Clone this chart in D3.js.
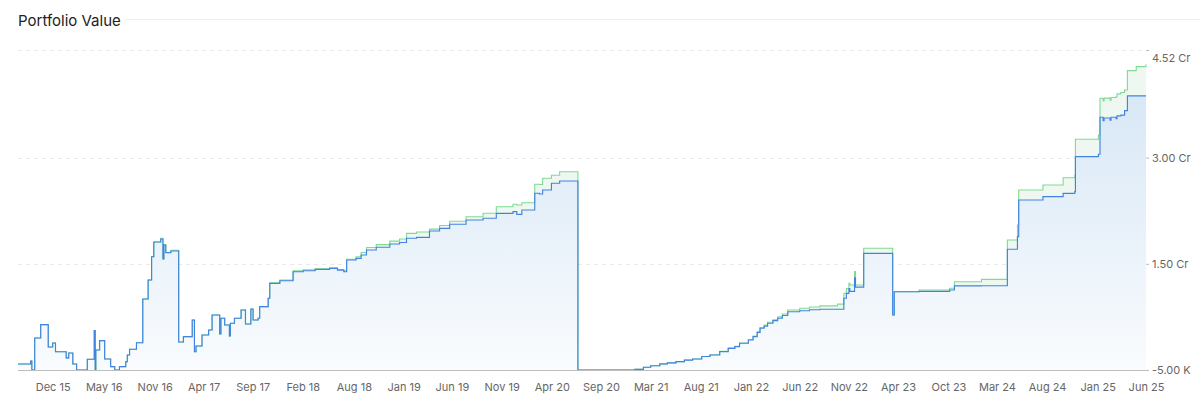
<!DOCTYPE html>
<html>
<head>
<meta charset="utf-8">
<title>Portfolio Value</title>
<script src="https://cdn.jsdelivr.net/npm/d3@7"></script>
<style>
  html, body { margin: 0; padding: 0; background: #fff; }
  .vis { width: 1200px; height: 398px; }
  text { font-family: Inter, "Noto Sans", sans-serif; }
</style>
</head>
<body>
<div class="vis"></div>
<script>
(function() {
  'use strict';

  // dates of each step, and the two series (values in crore)
  var dates = [
    "2015-09-01", "2015-10-11", "2015-10-15", "2015-10-24", "2015-11-12", "2015-12-06",
    "2015-12-20", "2015-12-29", "2016-02-01", "2016-02-09", "2016-02-22", "2016-03-05",
    "2016-04-08", "2016-04-30", "2016-05-03", "2016-05-05", "2016-05-17", "2016-06-02",
    "2016-06-21", "2016-07-04", "2016-07-19", "2016-08-08", "2016-08-13", "2016-08-20",
    "2016-09-11", "2016-10-01", "2016-10-18", "2016-10-29", "2016-11-05", "2016-11-27",
    "2016-12-04", "2016-12-07", "2016-12-13", "2016-12-29", "2017-01-23", "2017-02-07",
    "2017-03-07", "2017-03-14", "2017-03-19", "2017-04-07", "2017-04-28", "2017-05-09",
    "2017-06-02", "2017-06-06", "2017-06-18", "2017-07-03", "2017-07-06", "2017-07-19",
    "2017-08-09", "2017-08-23", "2017-09-09", "2017-09-16", "2017-10-02", "2017-10-07",
    "2017-11-03", "2017-11-08", "2017-12-10", "2018-01-21", "2018-02-22", "2018-04-01",
    "2018-05-17", "2018-06-11", "2018-07-01", "2018-07-10", "2018-08-09", "2018-08-25",
    "2018-09-11", "2018-10-12", "2018-11-24", "2018-12-25", "2019-01-16", "2019-02-17",
    "2019-03-30", "2019-05-01", "2019-06-02", "2019-07-24", "2019-09-16", "2019-10-28",
    "2019-12-20", "2020-01-01", "2020-01-17", "2020-02-27", "2020-03-13", "2020-03-23",
    "2020-04-20", "2020-05-16", "2020-07-13", "2021-01-10", "2021-02-06", "2021-03-01",
    "2021-03-30", "2021-04-23", "2021-05-20", "2021-06-16", "2021-07-12", "2021-08-10",
    "2021-09-05", "2021-10-06", "2021-11-02", "2021-11-23", "2021-12-08", "2022-01-05",
    "2022-01-20", "2022-02-02", "2022-02-11", "2022-02-24", "2022-03-07", "2022-03-24",
    "2022-04-08", "2022-04-23", "2022-05-10", "2022-06-17", "2022-07-18", "2022-08-20",
    "2022-10-15", "2022-11-04", "2022-11-12", "2022-11-20", "2022-11-23", "2022-12-08",
    "2022-12-11", "2023-01-06", "2023-04-08", "2023-04-13", "2023-07-01", "2023-10-06",
    "2023-10-21", "2024-01-15", "2024-04-06", "2024-05-08", "2024-05-12", "2024-07-28",
    "2024-09-30", "2024-11-06", "2024-11-08", "2025-01-20", "2025-01-25", "2025-02-04",
    "2025-02-07", "2025-02-26", "2025-03-01", "2025-03-17", "2025-03-20", "2025-04-01",
    "2025-04-13", "2025-04-22", "2025-05-20", "2025-06-20"
  ];

  var invested = [
    0.084, 0.127, 0, 0.452, 0.64, 0.325,
    0.381, 0.258, 0.17, 0.24, 0.084, 0,
    0.151, 0.555, 0, 0.282, 0.414, 0.155,
    0.047, 0, 0.047, 0.117, 0.212, 0.292,
    0.385, 1.003, 1.271, 1.60, 1.808, 1.85,
    1.567, 1.765, 1.657, 1.68, 0.395, 0.47,
    0.706, 0.258, 0.339, 0.494, 0.565, 0.777,
    0.508, 0.73, 0.635, 0.48, 0.66, 0.73,
    0.847, 0.649, 0.861, 0.706, 0.73, 0.894,
    1.013, 1.224, 1.261, 1.388, 1.402, 1.42,
    1.436, 1.41, 1.388, 1.553, 1.577, 1.624,
    1.695, 1.733, 1.78, 1.80, 1.86, 1.874,
    1.963, 2.00, 2.058, 2.118, 2.143, 2.213,
    2.236, 2.199, 2.26, 2.496, 2.486, 2.542,
    2.637, 2.67, 0, 0.008, 0.038, 0.06,
    0.085, 0.10, 0.117, 0.14, 0.155, 0.19,
    0.212, 0.259, 0.306, 0.33, 0.377, 0.424,
    0.47, 0.53, 0.589, 0.62, 0.66, 0.696,
    0.73, 0.77, 0.822, 0.836, 0.85, 0.857,
    0.857, 1.013, 1.081, 1.15, 1.11, 1.30,
    1.17, 1.646, 0.777, 1.105, 1.11, 1.13,
    1.187, 1.19, 1.705, 1.883, 2.401, 2.448,
    2.495, 2.519, 3.013, 3.047, 3.57, 3.52,
    3.56, 3.53, 3.57, 3.55, 3.59, 3.60,
    3.664, 3.871, 3.871, 3.871
  ];

  var current = [
    0.084, 0.127, 0, 0.452, 0.64, 0.325,
    0.381, 0.258, 0.17, 0.24, 0.084, 0,
    0.151, 0.555, 0, 0.282, 0.414, 0.155,
    0.047, 0, 0.047, 0.117, 0.212, 0.292,
    0.385, 1.003, 1.271, 1.60, 1.808, 1.86,
    1.567, 1.77, 1.66, 1.69, 0.395, 0.47,
    0.706, 0.258, 0.339, 0.494, 0.565, 0.777,
    0.508, 0.73, 0.635, 0.48, 0.66, 0.73,
    0.847, 0.649, 0.861, 0.706, 0.73, 0.894,
    1.013, 1.23, 1.27, 1.40, 1.415, 1.43,
    1.445, 1.42, 1.40, 1.565, 1.60, 1.66,
    1.73, 1.77, 1.82, 1.85, 1.93, 1.95,
    1.99, 2.04, 2.10, 2.165, 2.213, 2.306,
    2.34, 2.33, 2.363, 2.623, 2.62, 2.708,
    2.75, 2.80, 0, 0.008, 0.038, 0.06,
    0.085, 0.10, 0.117, 0.14, 0.155, 0.19,
    0.215, 0.262, 0.31, 0.335, 0.38, 0.43,
    0.48, 0.54, 0.60, 0.635, 0.675, 0.71,
    0.75, 0.79, 0.848, 0.872, 0.89, 0.905,
    0.93, 1.083, 1.15, 1.225, 1.20, 1.389,
    1.20, 1.719, 0.777, 1.105, 1.13, 1.154,
    1.247, 1.28, 1.836, 2.048, 2.543, 2.613,
    2.716, 2.755, 3.259, 3.32, 3.838, 3.80,
    3.84, 3.81, 3.85, 3.86, 3.90, 3.92,
    3.956, 4.228, 4.285, 4.319
  ];

  var xTickDates = [
    "2015-12-20", "2016-05-30", "2016-11-08", "2017-04-12", "2017-09-15", "2018-02-21",
    "2018-08-02", "2019-01-07", "2019-06-09", "2019-11-14", "2020-04-21", "2020-09-24",
    "2021-03-01", "2021-08-07", "2022-01-13", "2022-06-17", "2022-11-20", "2023-04-25",
    "2023-10-02", "2024-03-04", "2024-08-10", "2025-01-18", "2025-06-20"
  ];

  var yTicks = [-0.0005, 1.5, 3.0, 4.52];

  var parse = d3.timeParse("%Y-%m-%d");

  var el = d3.select('.vis'),
    elWidth = 1200,
    elHeight = 398,
    margin = {top: 50, right: 54, bottom: 28, left: 18},
    width = elWidth - margin.left - margin.right,
    height = elHeight - margin.top - margin.bottom;

  var data = dates.map(function(d, i) {
    return {date: parse(d), invested: invested[i], current: current[i]};
  });

  var svg = el.append("svg")
      .attr("width", elWidth)
      .attr("height", elHeight);

  // title + rule
  svg.append("text")
      .attr("x", 18)
      .attr("y", 26)
      .attr("font-size", 15)
      .attr("fill", "#222")
      .text("Portfolio Value");

  svg.append("line")
      .attr("x1", 125).attr("x2", elWidth)
      .attr("y1", 19.5).attr("y2", 19.5)
      .attr("stroke", "#eeeeee");

  var defs = svg.append("defs");
  var grad = defs.append("linearGradient")
      .attr("id", "blueFill")
      .attr("gradientUnits", "userSpaceOnUse")
      .attr("x1", 0).attr("y1", margin.top)
      .attr("x2", 0).attr("y2", margin.top + height);
  grad.append("stop").attr("offset", "0%").attr("stop-color", "#d9e8f6");
  grad.append("stop").attr("offset", "100%").attr("stop-color", "#ffffff");

  var g = svg.append("g")
      .attr("transform", "translate(" + margin.left + "," + margin.top + ")");

  var x = d3.scaleTime()
      .domain([parse("2015-09-01"), parse("2025-06-20")])
      .range([0, width]);

  var y = d3.scaleLinear()
      .domain([yTicks[0], yTicks[yTicks.length - 1]])
      .range([height, 0]);

  // dashed grid
  g.selectAll('.grid')
    .data(yTicks.slice(1))
    .enter()
    .append('line')
      .attr('class', 'grid')
      .attr('x1', 0)
      .attr('x2', width)
      .attr('y1', function(d) { return Math.round(y(d)) + 0.5; })
      .attr('y2', function(d) { return Math.round(y(d)) + 0.5; })
      .attr('stroke', '#e9e9e9')
      .attr('stroke-dasharray', '4,4');

  var curve = d3.curveStepAfter;

  var blueArea = d3.area()
      .curve(curve)
      .x(function(d) { return x(d.date); })
      .y0(height)
      .y1(function(d) { return y(d.invested); });

  var greenArea = d3.area()
      .curve(curve)
      .x(function(d) { return x(d.date); })
      .y0(function(d) { return y(d.invested); })
      .y1(function(d) { return y(d.current); });

  var blueLine = d3.line()
      .curve(curve)
      .x(function(d) { return x(d.date); })
      .y(function(d) { return y(d.invested); });

  var greenLine = d3.line()
      .curve(curve)
      .x(function(d) { return x(d.date); })
      .y(function(d) { return y(d.current); });

  g.append('path')
      .datum(data)
      .attr('d', blueArea)
      .attr('fill', 'url(#blueFill)');

  g.append('path')
      .datum(data)
      .attr('d', greenArea)
      .attr('fill', '#eef8f1');

  g.append('path')
      .datum(data)
      .attr('d', greenLine)
      .attr('fill', 'none')
      .attr('stroke', '#80da94')
      .attr('stroke-width', 1.1);

  g.append('path')
      .datum(data)
      .attr('d', blueLine)
      .attr('fill', 'none')
      .attr('stroke', '#4283e2')
      .attr('stroke-width', 1.15);

  // baseline
  g.append('line')
      .attr('x1', 0).attr('x2', width)
      .attr('y1', height + 0.5).attr('y2', height + 0.5)
      .attr('stroke', '#bdbdbd');

  // x axis
  var xAxis = d3.axisBottom(x)
      .tickValues(xTickDates.map(parse))
      .tickFormat(d3.timeFormat("%b %y"))
      .tickSize(0)
      .tickPadding(13);

  var xg = g.append('g')
      .attr('transform', 'translate(0,' + height + ')')
      .call(xAxis);
  xg.select('.domain').remove();
  xg.selectAll('text')
      .attr('font-family', 'Inter, sans-serif')
      .attr('font-size', 11)
      .attr('fill', '#666');

  // y axis on the right
  function fmt(v) {
    if (Math.abs(v) < 0.01) {
      return (v * 1e7 / 1e3).toFixed(2) + " K";
    }
    return v.toFixed(2) + " Cr";
  }

  var yAxis = d3.axisRight(y)
      .tickValues(yTicks)
      .tickFormat(fmt)
      .tickSize(3)
      .tickPadding(3);

  var yg = g.append('g')
      .attr('transform', 'translate(' + width + ',0)')
      .call(yAxis);
  yg.select('.domain').remove();
  yg.selectAll('line').attr('stroke', '#bbb');
  yg.selectAll('text')
      .attr('font-family', 'Inter, sans-serif')
      .attr('font-size', 11)
      .attr('fill', '#666')
      .attr('dy', function(d) { return d === yTicks[yTicks.length - 1] ? '1.0em' : '0.32em'; });
}());
</script>
</body>
</html>
